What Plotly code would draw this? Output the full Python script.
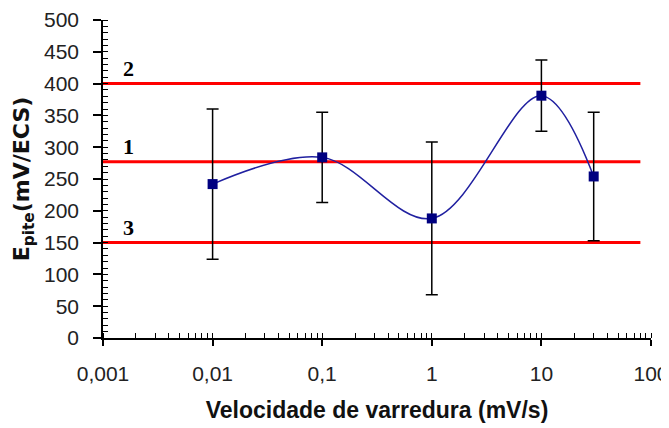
import plotly.graph_objects as go
import math

# Data
scan_rates = [0.01, 0.1, 1, 10, 30]            # mV/s
e_pite = [242, 284, 188, 381, 254]              # mV/ECS
e_err = [118, 71, 120, 56, 101]                 # error bar half-widths

ref_levels = [277, 400, 150]
ref_labels = ["1", "2", "3"]
ref_x = [0.001, 80]
label_x = 0.0017

x_tickvals = [0.001, 0.01, 0.1, 1, 10, 100]
x_ticktext = ["0,001", "0,01", "0,1", "1", "10", "100"]
y_tickvals = [0, 50, 100, 150, 200, 250, 300, 350, 400, 450, 500]

fig = go.Figure()

for lvl in ref_levels:
    fig.add_trace(go.Scatter(
        x=ref_x, y=[lvl, lvl], mode="lines",
        line=dict(color="#ff0000", width=3), showlegend=False, hoverinfo="skip"))

fig.add_trace(go.Scatter(
    x=scan_rates, y=e_pite, mode="lines+markers",
    line=dict(color="#2020a0", width=1.5, shape="spline", smoothing=1),
    marker=dict(symbol="square", size=10, color="#000080"),
    error_y=dict(type="data", array=e_err, visible=True, color="black",
                 thickness=1.5, width=6),
    showlegend=False))

for lvl, lab in zip(ref_levels, ref_labels):
    fig.add_annotation(
        x=math.log10(label_x), y=lvl, xref="x", yref="y", text="<b>" + lab + "</b>",
        showarrow=False, yanchor="bottom", xanchor="center", yshift=1,
        font=dict(family="Liberation Serif", size=22, color="black"))

fig.update_xaxes(
    type="log", range=[-3, 2], automargin=False,
    tickvals=x_tickvals, ticktext=x_ticktext,
    showline=True, linecolor="black", linewidth=1.5,
    ticks="outside", ticklen=6, tickcolor="black", tickwidth=1.5,
    showgrid=False, zeroline=False,
    tickfont=dict(family="Liberation Sans", size=21, color="#222"),
    ticklabelstandoff=10,
    minor=dict(ticks="inside", ticklen=5, tickcolor="black", tickwidth=1, dtick="D1", showgrid=False),
    title=dict(text="<b>Velocidade de varredura (mV/s)</b>",
               font=dict(family="Liberation Sans", size=23, color="#111"), standoff=18),
)
fig.update_yaxes(
    range=[0, 500], tickvals=y_tickvals, automargin=False,
    showline=True, linecolor="black", linewidth=1.5,
    ticks="outside", ticklen=8, tickcolor="black", tickwidth=1.5,
    showgrid=False, zeroline=False,
    tickfont=dict(family="Liberation Sans", size=21, color="#222"),
    ticklabelstandoff=10,
    minor=dict(ticks="inside", ticklen=5, tickcolor="black", tickwidth=1, dtick=10, showgrid=False),
    title=dict(text="<b>E<sub>pite</sub>(mV/ECS)</b>",
               font=dict(family="DejaVu Sans", size=22, color="#111"), standoff=8),
)

fig.update_layout(
    width=661, height=420,
    margin=dict(l=95, r=18, t=12, b=90),
    plot_bgcolor="white", paper_bgcolor="white",
)

fig.write_html("out.html")
